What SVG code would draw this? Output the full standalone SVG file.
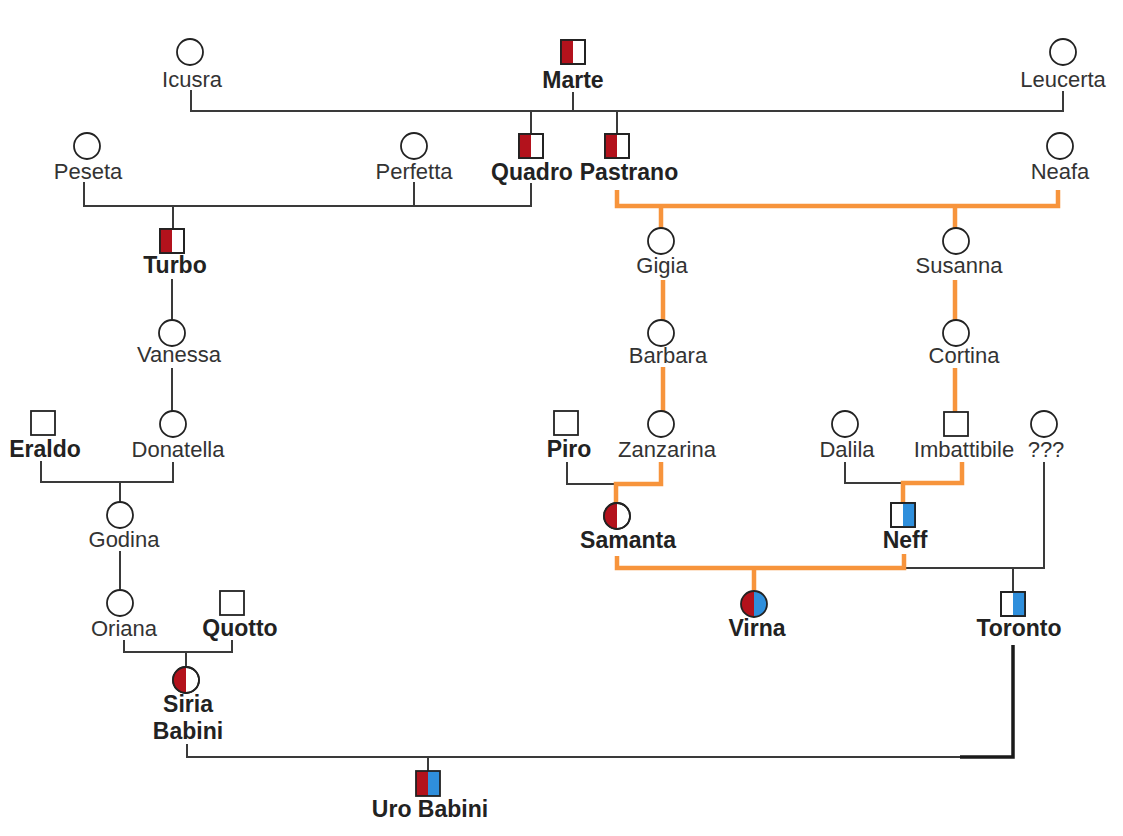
<svg xmlns="http://www.w3.org/2000/svg" width="1123" height="836" viewBox="0 0 1123 836">
<style>
.c{fill:#fff;stroke:#222;stroke-width:1.8}
.o{fill:none;stroke:#222;stroke-width:1.8}
.r{fill:#b3121c}
.b{fill:#2f8fdc}
.t{font-family:"Liberation Sans",Arial,sans-serif;font-size:22px;fill:#333;text-anchor:middle}
.tb{font-family:"Liberation Sans",Arial,sans-serif;font-size:23px;font-weight:bold;fill:#222;text-anchor:middle}
.k{fill:none;stroke:#3a3a3a;stroke-width:2}
.kt{fill:none;stroke:#1a1a1a;stroke-width:3.5}
.or{fill:none;stroke:#f7943c;stroke-width:4.5}
</style>
<rect width="1123" height="836" fill="#fff"/>
<g id="connectors">
<path class="k" d="M191 90V111H1063V91M573 92V111M531 111V134M617 111V134"/>
<path class="k" d="M84 182V206H531V183M414 182V206M173 206V229"/>
<path class="k" d="M172 279V320M172 368V411"/>
<path class="k" d="M41 461V482H173V462M120 482V502M120 551V590"/>
<path class="k" d="M124 640V652H232V640M186 652V667"/>
<path class="k" d="M187 744V757H1013M428 757V771"/>
<path class="kt" d="M1013 645V757H960"/>
<path class="k" d="M567 462V484H615M845 462V483H903"/>
<path class="k" d="M904 568H1044V462M1013 568V592"/>
<path class="or" d="M617 190V206H1058V190M661 206V228M955 206V228"/>
<path class="or" d="M663 280V320M663 367V411M955 280V320M955 368V412"/>
<path class="or" d="M661 462V484H616V503M962 462V483H903V503"/>
<path class="or" d="M617 556V568H904V554M754 568V590"/>
</g>
<g id="icusra"><circle class="c" cx="190" cy="52" r="13"/><text class="t" x="192" y="87">Icusra</text></g>
<g id="marte"><rect class="c" x="561" y="40" width="24" height="24"/><rect class="r" x="561" y="40" width="12" height="24"/><rect class="o" x="561" y="40" width="24" height="24"/><text class="tb" x="573" y="88">Marte</text></g>
<g id="leucerta"><circle class="c" cx="1063" cy="52" r="13"/><text class="t" x="1063" y="87">Leucerta</text></g>
<g id="peseta"><circle class="c" cx="87" cy="146" r="13"/><text class="t" x="88" y="179">Peseta</text></g>
<g id="perfetta"><circle class="c" cx="414" cy="146" r="13"/><text class="t" x="414" y="179">Perfetta</text></g>
<g id="quadro"><rect class="c" x="519" y="134" width="24" height="24"/><rect class="r" x="519" y="134" width="12" height="24"/><rect class="o" x="519" y="134" width="24" height="24"/><text class="tb" x="532" y="180">Quadro</text></g>
<g id="pastrano"><rect class="c" x="605" y="134" width="24" height="24"/><rect class="r" x="605" y="134" width="12" height="24"/><rect class="o" x="605" y="134" width="24" height="24"/><text class="tb" x="629" y="180">Pastrano</text></g>
<g id="neafa"><circle class="c" cx="1060" cy="146" r="13"/><text class="t" x="1060" y="179">Neafa</text></g>
<g id="turbo"><rect class="c" x="160" y="229" width="24" height="24"/><rect class="r" x="160" y="229" width="12" height="24"/><rect class="o" x="160" y="229" width="24" height="24"/><text class="tb" x="175" y="273">Turbo</text></g>
<g id="vanessa"><circle class="c" cx="172" cy="333" r="13"/><text class="t" x="179" y="362">Vanessa</text></g>
<g id="donatella"><circle class="c" cx="173" cy="424" r="13"/><text class="t" x="178" y="457">Donatella</text></g>
<g id="eraldo"><rect class="c" x="31" y="411" width="24" height="24"/><text class="tb" x="45" y="457">Eraldo</text></g>
<g id="godina"><circle class="c" cx="120" cy="515" r="13"/><text class="t" x="124" y="547">Godina</text></g>
<g id="oriana"><circle class="c" cx="120" cy="603" r="13"/><text class="t" x="124" y="636">Oriana</text></g>
<g id="quotto"><rect class="c" x="220" y="591" width="24" height="24"/><text class="tb" x="240" y="636">Quotto</text></g>
<g id="siria"><circle class="c" cx="186" cy="680" r="13"/><path class="r" d="M186 667A13 13 0 0 0 186 693Z"/><circle class="o" cx="186" cy="680" r="13"/><text class="tb" x="188" y="712">Siria</text><text class="tb" x="188" y="739">Babini</text></g>
<g id="uro"><rect class="r" x="416" y="771" width="12" height="25"/><rect class="b" x="428" y="771" width="12" height="25"/><rect class="o" x="416" y="771" width="24" height="25"/><text class="tb" x="430" y="817">Uro Babini</text></g>
<g id="gigia"><circle class="c" cx="661" cy="241" r="13"/><text class="t" x="662" y="273">Gigia</text></g>
<g id="barbara"><circle class="c" cx="661" cy="333" r="13"/><text class="t" x="668" y="363">Barbara</text></g>
<g id="zanzarina"><circle class="c" cx="661" cy="424" r="13"/><text class="t" x="667" y="457">Zanzarina</text></g>
<g id="piro"><rect class="c" x="554" y="411" width="24" height="24"/><text class="tb" x="569" y="457">Piro</text></g>
<g id="susanna"><circle class="c" cx="956" cy="241" r="13"/><text class="t" x="959" y="273">Susanna</text></g>
<g id="cortina"><circle class="c" cx="956" cy="333" r="13"/><text class="t" x="964" y="363">Cortina</text></g>
<g id="imbattibile"><rect class="c" x="944" y="412" width="24" height="24"/><text class="t" x="964" y="457">Imbattibile</text></g>
<g id="dalila"><circle class="c" cx="845" cy="424" r="13"/><text class="t" x="847" y="457">Dalila</text></g>
<g id="unknown"><circle class="c" cx="1044" cy="424" r="13"/><text class="t" x="1046" y="457">???</text></g>
<g id="samanta"><circle class="c" cx="617" cy="516" r="13"/><path class="r" d="M617 503A13 13 0 0 0 617 529Z"/><circle class="o" cx="617" cy="516" r="13"/><text class="tb" x="628" y="548">Samanta</text></g>
<g id="neff"><rect class="c" x="891" y="503" width="24" height="24"/><rect class="b" x="903" y="503" width="12" height="24"/><rect class="o" x="891" y="503" width="24" height="24"/><text class="tb" x="905" y="548">Neff</text></g>
<g id="virna"><path class="r" d="M754 591A13 13 0 0 0 754 617Z"/><path class="b" d="M754 591A13 13 0 0 1 754 617Z"/><circle class="o" cx="754" cy="604" r="13"/><text class="tb" x="757" y="636">Virna</text></g>
<g id="toronto"><rect class="c" x="1001" y="592" width="24" height="24"/><rect class="b" x="1013" y="592" width="12" height="24"/><rect class="o" x="1001" y="592" width="24" height="24"/><text class="tb" x="1019" y="636">Toronto</text></g>
</svg>
